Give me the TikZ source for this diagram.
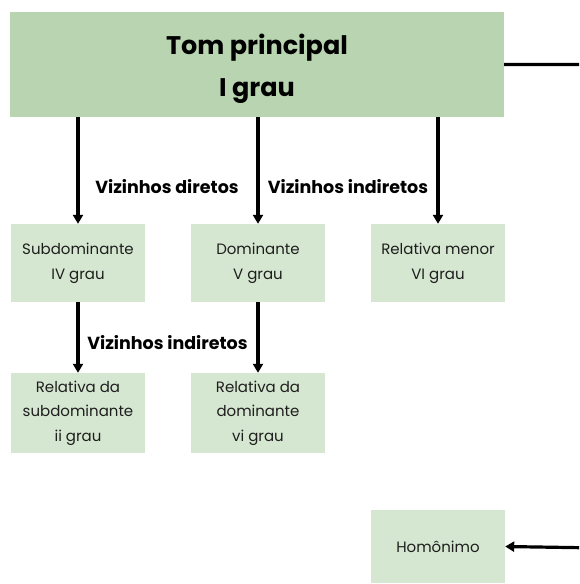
\documentclass[tikz,border=0pt]{standalone}
\usepackage{fontspec}
\setmainfont{Poppins}
\usetikzlibrary{arrows.meta}
\definecolor{maingreen}{HTML}{B8D4B0}
\definecolor{boxgreen}{HTML}{D5E7D0}
\definecolor{txt}{HTML}{1E1E1E}
\begin{document}
\begin{tikzpicture}[x=1pt,y=-1pt,
  mainbox/.style={fill=maingreen, draw=none, minimum width=494pt, minimum height=105pt, inner sep=0pt},
  titletext/.style={inner sep=0pt, align=center, text=black, font=\fontsize{25.5}{42}\selectfont\bfseries},
  smallbox/.style={fill=boxgreen, draw=none, minimum width=134pt, inner sep=0pt, align=center, text=txt,
    font=\fontsize{15}{25}\selectfont},
  lbl/.style={font=\fontsize{17.5}{20}\selectfont\bfseries, inner sep=0pt, text=black},
  arr/.style={line width=3.2pt, -{Triangle[length=9pt,width=10pt]}}
]
\useasboundingbox (0,0) rectangle (579,584);
\clip (0,0) rectangle (579,584);
\node[mainbox] (main) at (257,64.5) {};
\node[titletext] (title) at (257,69) {Tom principal\\I grau};
\node[smallbox, minimum height=78pt] (sub) at (78,263) {Subdominante\\IV grau};
\node[smallbox, minimum height=78pt] (dom) at (258,263) {Dominante\\V grau};
\node[smallbox, minimum height=78pt] (rel) at (438,263) {Relativa menor\\VI grau};
\node[smallbox, minimum height=80pt, font=\fontsize{15}{24.5}\selectfont] (relsub) at (78,413) {Relativa da\\subdominante\\ii grau};
\node[smallbox, minimum height=80pt, font=\fontsize{15}{24.5}\selectfont] (reldom) at (258,413) {Relativa da\\dominante\\vi grau};
\node[smallbox, minimum height=73pt] (hom) at (438,546.5) {Homônimo};
\draw[arr] (main.south -| sub.north) -- (sub.north);
\draw[arr] (main.south -| dom.north) -- (dom.north);
\draw[arr] (main.south -| rel.north) -- (rel.north);
\draw[arr] (sub.south) -- (relsub.north);
\draw[arr] (dom.south) -- (reldom.north);
\coordinate (c1) at (600,64.5);
\coordinate (c2) at (600,548);
\draw[arr] (main.east) -- (c1) -- (c2) -- (hom.east);
\node[lbl] (l1) at (167,187) {Vizinhos diretos};
\node[lbl] (l2) at (348,187) {Vizinhos indiretos};
\node[lbl] (l3) at (167.5,343) {Vizinhos indiretos};
\end{tikzpicture}
\end{document}
